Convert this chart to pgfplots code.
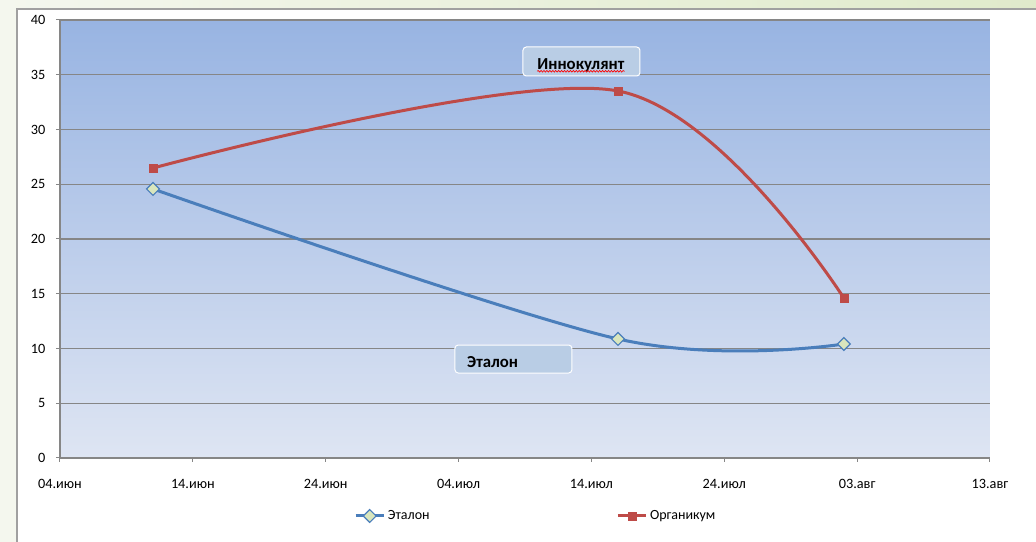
\documentclass[border=0pt]{standalone}
\usepackage{pgfplots}
\pgfplotsset{compat=1.18}
\usepackage{fontspec}
\setmainfont{Carlito}
\usetikzlibrary{decorations.pathmorphing}
\definecolor{etblue}{RGB}{74,126,187}
\definecolor{orgred}{RGB}{190,75,72}
\definecolor{diafill}{RGB}{217,230,189}
\definecolor{gridgray}{RGB}{134,134,134}
\definecolor{bgtop}{RGB}{152,180,226}
\definecolor{bgbot}{RGB}{222,229,243}
\definecolor{boxfill}{RGB}{185,205,229}
\definecolor{greenA}{RGB}{244,247,238}
\definecolor{greenB}{RGB}{224,234,203}
\definecolor{framegray}{RGB}{160,160,160}
\begin{document}
\begin{tikzpicture}
\path[use as bounding box] (-45pt,-63pt) rectangle (732pt,343.5pt);
\fill[greenA] (-45pt,-63pt) rectangle (732pt,343.5pt);
\shade[left color=greenA, right color=greenB] (-45pt,336.75pt) rectangle (732pt,343.5pt);
\fill[white] (-32.25pt,-63pt) rectangle (732pt,336.75pt);
\draw[framegray, line width=1pt] (-32.25pt,-63pt) -- (-32.25pt,336.75pt) -- (732pt,336.75pt);
\begin{axis}[
  scale only axis, width=697.5pt, height=328.5pt,
  xmin=0, xmax=70, ymin=0, ymax=40,
  xtick={0,10,...,70},
  xticklabels={04.июн,14.июн,24.июн,04.июл,14.июл,24.июл,03.авг,13.авг},
  ytick={0,5,...,40},
  axis x line*=bottom, axis y line*=left,
  axis line style={gridgray, line width=0.9pt, -},
  every outer x axis line/.append style={-},
  every outer y axis line/.append style={-},
  ymajorgrids, grid style={gridgray, line width=0.9pt},
  tick align=outside, major tick length=3pt,
  tick style={gridgray, line width=0.75pt},
  ticklabel style={font=\fontsize{10.7}{12}\selectfont, text=black},
  xticklabel style={yshift=-9.5pt},
  yticklabel style={xshift=-4.5pt},
  /pgf/number format/assume math mode=true,
  axis background/.style={top color=bgtop, bottom color=bgbot},
  legend style={at={(0.512,-0.1324)}, anchor=center, legend columns=2,
    draw=none, fill=none, font=\fontsize{10.5}{12}\selectfont,
    /tikz/every even column/.append style={column sep=138pt}},
  legend image code/.code={\draw[mark repeat=2,mark phase=2] plot coordinates {(0pt,0pt) (10.5pt,0pt) (21pt,0pt)};},
]
\addplot[etblue, line width=2.25pt, smooth, tension=0.55, mark=square*, mark size=3.4pt,
  mark options={rotate=45, fill=diafill, draw=etblue, line width=0.9pt}]
  coordinates {(7,24.57) (42,10.87) (59,10.41)};
\addlegendentry{Эталон}
\addplot[orgred, line width=2.25pt, smooth, tension=0.55, mark=square*, mark size=3pt,
  mark options={fill=orgred, draw=orgred, line width=0.5pt}]
  coordinates {(7,26.48) (42,33.52) (59,14.61)};
\addlegendentry{Органикум}
\node[fill=boxfill, draw=white, rounded corners=2.5pt, line width=0.75pt,
  minimum width=87.75pt, minimum height=21.75pt, inner sep=0pt] at (axis cs:39.25,36.21) {};
\node[inner sep=0pt, font=\fontsize{12.6}{14}\selectfont\bfseries] (inn) at (axis cs:39.21,35.89) {Иннокулянт};
\draw[red, line width=0.5pt, decorate, decoration={snake, amplitude=0.6pt, segment length=2.2pt}]
  ([yshift=-1.6pt]inn.base west) -- ([yshift=-1.6pt]inn.base east);
\node[fill=boxfill, draw=white, rounded corners=2.5pt, line width=0.75pt,
  minimum width=87.75pt, minimum height=21pt, inner sep=0pt] at (axis cs:34.13,9.04) {};
\node[inner sep=0pt, anchor=west, font=\fontsize{12.6}{14}\selectfont\bfseries] at (axis cs:30.63,8.77) {Эталон};
\end{axis}
\end{tikzpicture}
\end{document}
